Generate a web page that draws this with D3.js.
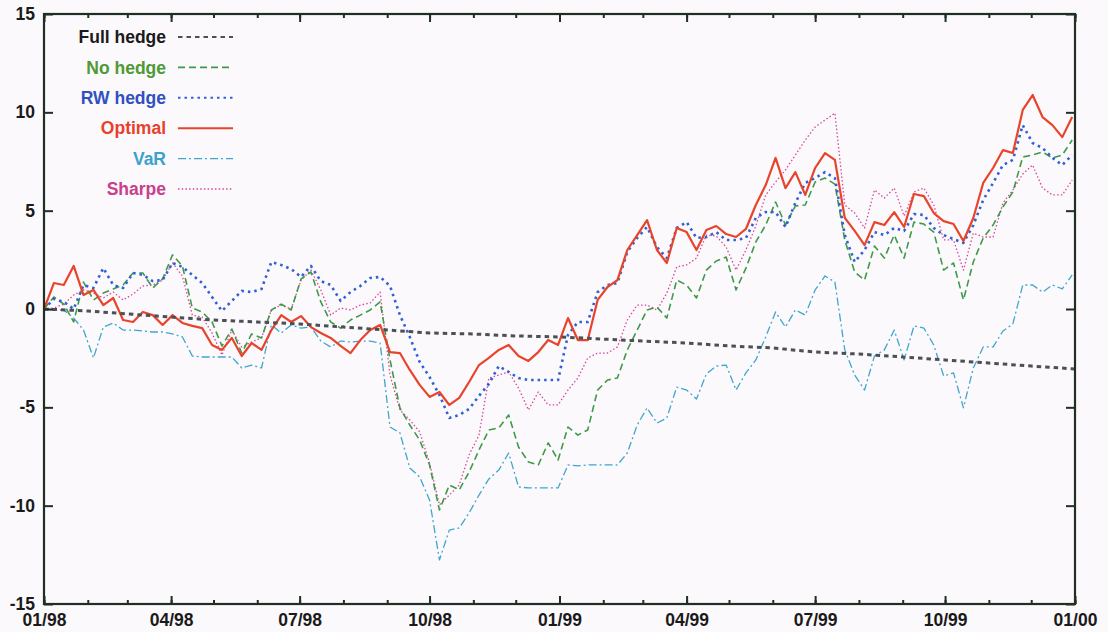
<!DOCTYPE html>
<html>
<head>
<meta charset="utf-8">
<script src="https://cdn.jsdelivr.net/npm/d3@7"></script>
<style>
  html, body { margin: 0; padding: 0; background: #fcf9fc; }
  svg { display: block; }
  text { font-family: "Liberation Sans", Arial, Helvetica, sans-serif; }
</style>
</head>
<body>
<svg id="chart" width="1108" height="632"></svg>
<script>
// Weekly cumulative returns (%) of the hedging strategies, Jan 1998 - Dec 1999
const optimal = [0, 1.32, 1.22, 2.19, 0.71, 0.97, 0.20, 0.56, -0.56, -0.66, -0.15, -0.31, -0.81, -0.31, -0.71, -0.86, -0.97, -1.83, -2.08, -1.47, -2.39, -1.73, -2.08, -1.07, -0.31, -0.66, -0.36, -0.92, -1.22, -1.47, -1.88, -2.24, -1.58, -1.07, -0.81, -2.19, -2.24, -3.10, -3.86, -4.47, -4.22, -4.88, -4.52, -3.71, -2.85, -2.49, -2.08, -1.83, -2.39, -2.64, -2.19, -1.58, -1.83, -0.46, -1.58, -1.58, 0.46, 1.12, 1.47, 3.00, 3.76, 4.52, 3.00, 2.34, 4.12, 3.91, 3.00, 4.02, 4.22, 3.81, 3.66, 4.07, 5.29, 6.30, 7.68, 6.15, 6.96, 5.80, 7.17, 7.93, 7.58, 4.63, 3.97, 3.25, 4.42, 4.27, 4.93, 4.17, 5.85, 5.74, 4.88, 4.47, 4.32, 3.46, 4.63, 6.41, 7.17, 8.08, 7.93, 10.12, 10.88, 9.76, 9.35, 8.74, 9.76];
const rwHedge = [0, 0.51, 0.36, 0, 1.22, 1.07, 2.08, 1.22, 1.07, 1.83, 1.73, 1.42, 1.47, 2.34, 2.14, 1.73, 1.32, 0.61, -0.10, 0.41, 0.92, 0.86, 1.02, 2.39, 2.24, 2.03, 1.63, 2.19, 1.42, 1.22, 0.41, 0.86, 1.17, 1.58, 1.63, 1.17, -0.31, -1.42, -2.69, -3.46, -4.37, -5.54, -5.39, -5.08, -4.42, -3.81, -2.90, -3.20, -3.51, -3.61, -3.61, -3.61, -3.61, -1.32, -0.66, -0.66, 0.86, 1.22, 1.32, 2.90, 3.61, 4.17, 3.15, 2.59, 4.12, 4.42, 3.61, 3.66, 3.91, 3.51, 3.51, 3.61, 4.63, 4.93, 4.93, 4.17, 5.39, 6.41, 6.66, 6.96, 6.66, 3.76, 2.39, 3.00, 3.91, 3.76, 4.12, 3.97, 4.83, 4.78, 4.12, 3.76, 3.56, 3.36, 4.27, 5.54, 6.41, 7.32, 7.58, 9.35, 8.44, 8.19, 7.68, 7.32, 7.83];
const noHedge = [0, 0.61, 0.25, -0.66, 1.37, 0.46, 0.81, 1.02, 1.22, 1.83, 1.83, 1.07, 1.53, 2.75, 2.19, 0.05, -0.15, -0.66, -1.88, -1.02, -2.24, -1.27, -1.47, -0.05, 0.25, -0.05, 1.53, 1.88, 0.36, -0.66, -0.97, -0.56, -0.31, -0.05, 0.36, -2.59, -5.03, -5.90, -6.66, -7.93, -10.22, -8.95, -9.20, -8.29, -7.17, -6.15, -6.05, -5.39, -7.02, -7.78, -7.93, -6.81, -7.68, -6.00, -6.41, -6.15, -4.12, -3.61, -3.51, -2.08, -1.07, -0.05, 0.10, -0.46, 1.47, 1.22, 0.56, 1.98, 2.44, 2.64, 0.97, 2.08, 3.41, 4.27, 5.44, 4.27, 5.24, 5.29, 6.46, 6.66, 6.35, 3.51, 1.88, 1.47, 3.20, 2.59, 3.76, 2.59, 4.42, 4.32, 3.91, 1.98, 2.34, 0.46, 2.39, 3.61, 4.27, 5.19, 5.95, 7.73, 7.83, 7.98, 7.68, 7.83, 8.59];
const varHedge = [0, -0.05, -0.05, -0.46, -1.07, -2.49, -0.92, -0.71, -1.07, -1.07, -1.12, -1.17, -1.17, -1.27, -1.42, -2.39, -2.44, -2.44, -2.44, -2.44, -3.00, -2.85, -3.00, -0.81, -1.22, -0.81, -0.97, -0.92, -1.63, -1.93, -1.63, -1.68, -1.63, -1.63, -1.73, -6.00, -6.30, -8.08, -8.54, -9.71, -12.76, -11.24, -11.13, -10.37, -9.46, -8.64, -8.19, -7.32, -9.05, -9.10, -9.10, -9.10, -9.10, -7.93, -7.98, -7.93, -7.93, -7.93, -7.93, -7.32, -5.90, -5.03, -5.80, -5.54, -3.97, -4.12, -4.58, -3.30, -2.90, -2.85, -4.12, -3.25, -2.59, -1.42, -0.15, -0.92, -0.05, -0.31, 0.97, 1.68, 1.37, -2.08, -3.36, -4.12, -2.39, -2.08, -1.07, -2.59, -0.86, -0.97, -1.83, -3.41, -3.25, -5.03, -3.00, -1.93, -1.93, -1.12, -0.76, 1.22, 1.22, 0.86, 1.22, 1.02, 1.73];
const sharpe = [0, 0.05, 0.25, 0.71, 0.97, 0.81, 0.56, 0.86, 0.46, 0.76, 1.17, 1.22, 1.47, 2.34, 1.68, -0.31, -0.41, -1.22, -2.34, -1.07, -1.93, -1.68, -1.47, -0.05, 0.20, 0, 1.47, 1.98, 0.97, -0.31, 0.05, -0.05, 0.20, 0.31, 0.86, -3.36, -5.13, -5.64, -6.25, -7.83, -9.96, -9.46, -8.95, -7.42, -6.41, -3.51, -3.36, -3.20, -4.02, -5.13, -4.22, -4.88, -4.88, -4.12, -3.51, -2.49, -2.24, -2.24, -1.93, -0.56, 0.20, 0.20, -0.05, 0.81, 2.14, 2.24, 2.59, 3.76, 3.71, 3.15, 1.98, 3.00, 4.22, 5.80, 6.46, 7.07, 7.83, 8.59, 9.25, 9.61, 9.96, 5.29, 4.88, 4.12, 6.05, 5.64, 6.15, 4.73, 5.95, 6.15, 5.29, 3.51, 3.51, 1.98, 3.86, 3.66, 3.66, 5.39, 6.05, 6.86, 7.32, 6.15, 5.80, 5.80, 6.56];
// Full hedge: monthly values (first day of each month, Jan 1998 - Jan 2000)
const fullHedge = [0, -0.10, -0.25, -0.41, -0.56, -0.66, -0.76, -0.92, -1.07, -1.22, -1.27, -1.37, -1.42, -1.53, -1.63, -1.73, -1.88, -1.98, -2.19, -2.29, -2.44, -2.59, -2.75, -2.90, -3.05];

const yTicks = [-15, -10, -5, 0, 5, 10, 15];
const legendLabels = ["Full hedge", "No hedge", "RW hedge", "Optimal", "VaR", "Sharpe"];

const startDate = new Date(1998, 0, 1);
const endDate = new Date(2000, 0, 1);
const weekDates = optimal.map((_, i) => d3.timeDay.offset(startDate, 7 * i));
const monthDates = fullHedge.map((_, i) => d3.timeMonth.offset(startDate, i));

const plotLeft = 44, plotRight = 1075, plotTop = 14, plotBottom = 604;
const x = d3.scaleTime().domain([startDate, endDate]).range([plotLeft, plotRight]);
const y = d3.scaleLinear().domain([-15, 15]).range([plotBottom, plotTop]);

const svg = d3.select("#chart");
const axisColor = "#1e2f24";

svg.append("defs").append("clipPath").attr("id", "plot")
  .append("rect").attr("x", plotLeft).attr("y", plotTop)
  .attr("width", plotRight - plotLeft).attr("height", plotBottom - plotTop);

const styles = {
  "Full hedge": { color: "#4b5055", width: 3.0, dash: "4.5,4", text: "#1a1a1a" },
  "No hedge":   { color: "#3f9a48", width: 1.6, dash: "7,4", text: "#4f9a35" },
  "RW hedge":   { color: "#2f60d4", width: 2.6, dash: "2.5,4", text: "#3050c2" },
  "Optimal":    { color: "#e8442c", width: 2.2, dash: null, text: "#e8402c" },
  "VaR":        { color: "#3ea6cc", width: 1.3, dash: "8,3,2,3", text: "#3aa2cc" },
  "Sharpe":     { color: "#d4489b", width: 1.3, dash: "1.5,2.2", text: "#c8408c" }
};

const series = [
  { name: "VaR", dates: weekDates, values: varHedge },
  { name: "Sharpe", dates: weekDates, values: sharpe },
  { name: "No hedge", dates: weekDates, values: noHedge },
  { name: "RW hedge", dates: weekDates, values: rwHedge },
  { name: "Optimal", dates: weekDates, values: optimal },
  { name: "Full hedge", dates: monthDates, values: fullHedge }
];

const line = d3.line().x(d => x(d[0])).y(d => y(d[1]));

const plot = svg.append("g").attr("clip-path", "url(#plot)");
series.forEach(s => {
  const st = styles[s.name];
  plot.append("path")
    .datum(s.dates.map((d, i) => [d, s.values[i]]))
    .attr("fill", "none")
    .attr("stroke", st.color)
    .attr("stroke-width", st.width)
    .attr("stroke-linejoin", "round")
    .attr("stroke-dasharray", st.dash)
    .attr("d", line);
});

// Axes: ticks point inward on all four sides
function styleAxis(g) {
  g.select(".domain").remove();
  g.selectAll(".tick line").attr("stroke", axisColor).attr("stroke-width", 2);
  g.selectAll(".tick text")
    .attr("fill", "#1a1a1a")
    .style("font-size", "17.5px")
    .style("font-weight", "bold");
}

const quarters = d3.timeMonth.every(3).range(startDate, d3.timeDay.offset(endDate, 1));
const months = d3.timeMonth.range(startDate, d3.timeDay.offset(endDate, 1));

svg.append("g").attr("transform", `translate(0,${plotBottom})`)
  .call(d3.axisBottom(x).tickValues(months).tickSize(-4).tickFormat(""))
  .call(styleAxis);
svg.append("g").attr("transform", `translate(0,${plotBottom})`)
  .call(d3.axisBottom(x).tickValues(quarters).tickSize(-8).tickPadding(10)
    .tickFormat(d3.timeFormat("%m/%y")))
  .call(styleAxis);
svg.append("g").attr("transform", `translate(0,${plotTop})`)
  .call(d3.axisTop(x).tickValues(months).tickSize(-4).tickFormat(""))
  .call(styleAxis);
svg.append("g").attr("transform", `translate(0,${plotTop})`)
  .call(d3.axisTop(x).tickValues(quarters).tickSize(-8).tickFormat(""))
  .call(styleAxis);
svg.append("g").attr("transform", `translate(${plotLeft},0)`)
  .call(d3.axisLeft(y).tickValues(yTicks).tickSize(-9).tickPadding(9)
    .tickFormat(d => String(d)))
  .call(styleAxis);
svg.append("g").attr("transform", `translate(${plotRight},0)`)
  .call(d3.axisRight(y).tickValues(yTicks).tickSize(-9).tickFormat(""))
  .call(styleAxis);

// Frame
svg.append("rect")
  .attr("x", plotLeft).attr("y", plotTop)
  .attr("width", plotRight - plotLeft).attr("height", plotBottom - plotTop)
  .attr("fill", "none").attr("stroke", axisColor).attr("stroke-width", 2.2);

// Legend
const legendY = d3.scalePoint().domain(legendLabels).range([37, 189]);
const legend = svg.append("g");
legendLabels.forEach(name => {
  const st = styles[name];
  const yy = legendY(name);
  legend.append("text")
    .attr("x", 166).attr("y", yy).attr("dy", "0.35em")
    .attr("text-anchor", "end")
    .attr("fill", st.text)
    .style("font-size", "17.5px")
    .style("font-weight", "bold")
    .text(name);
  legend.append("line")
    .attr("x1", 178).attr("x2", 233).attr("y1", yy).attr("y2", yy)
    .attr("stroke", st.color)
    .attr("stroke-width", name === "Full hedge" ? 2 : Math.min(st.width, 2))
    .attr("stroke-dasharray", st.dash);
});
</script>
</body>
</html>
